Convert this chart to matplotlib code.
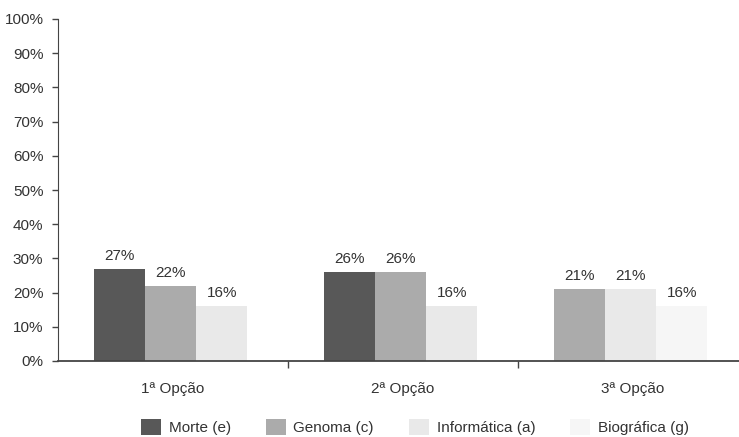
import numpy as np
import matplotlib.pyplot as plt
from matplotlib.ticker import FixedLocator, PercentFormatter

plt.rcParams['font.family'] = ['Liberation Sans', 'DejaVu Sans']

categorias = ["1ª Opção", "2ª Opção", "3ª Opção"]
series = ["Morte (e)", "Genoma (c)", "Informática (a)", "Biográfica (g)"]
morte = [27, 26, None]
genoma = [22, 26, 21]
informatica = [16, 16, 21]
biografica = [None, None, 16]

valores = [morte, genoma, informatica, biografica]
cores = ["#585858", "#ababab", "#e9e9e9", "#f6f6f6"]
cor_texto = "#333333"

fig = plt.figure(figsize=(7.39, 4.37), dpi=100)
ax = fig.add_axes([58 / 739, 1 - 361 / 437, 690 / 739, 342 / 437])

largura = 0.222
x = np.arange(len(categorias))

# cada grupo mostra só as séries presentes, centradas no grupo
for g in range(len(categorias)):
    presentes = [s for s in range(len(series)) if valores[s][g] is not None]
    n = len(presentes)
    for k, s in enumerate(presentes):
        pos = x[g] + (k - (n - 1) / 2) * largura - 0.01
        v = valores[s][g]
        ax.bar(pos, v, largura, color=cores[s], edgecolor="none")
        ax.text(pos, v + 1.8, f"{v}%", ha="center", va="bottom",
                fontsize=11, color=cor_texto)

# entradas da legenda
for s in range(len(series)):
    ax.bar(np.nan, np.nan, color=cores[s], label=series[s])

ax.set_xlim(-0.5, 2.5)
ax.set_ylim(0, 100)
ax.yaxis.set_major_locator(FixedLocator(np.arange(0, 101, 10)))
ax.yaxis.set_major_formatter(PercentFormatter(decimals=0))

ax.set_xticks(x)
ax.set_xticklabels(categorias)
ax.xaxis.set_minor_locator(FixedLocator([0.5, 1.5]))
ax.tick_params(axis="x", which="major", length=0, pad=15, labelsize=11,
               labelcolor=cor_texto)
ax.tick_params(axis="x", which="minor", length=5, width=1, color="#444444")
ax.tick_params(axis="y", length=4, width=1, pad=6.5, labelsize=11,
               labelcolor=cor_texto, color="#444444")

for lado in ["top", "right"]:
    ax.spines[lado].set_visible(False)
ax.spines["left"].set_color("#444444")
ax.spines["bottom"].set_color("#444444")
ax.spines["bottom"].set_linewidth(1.3)

fig.legend(loc="center", bbox_to_anchor=(415 / 739, 1 - 427 / 437), ncol=4,
           frameon=False, fontsize=11, handlelength=1.3, handleheight=1.3,
           handletextpad=0.5, columnspacing=2.3, labelcolor=cor_texto)

fig.savefig("out.png", dpi=100)
